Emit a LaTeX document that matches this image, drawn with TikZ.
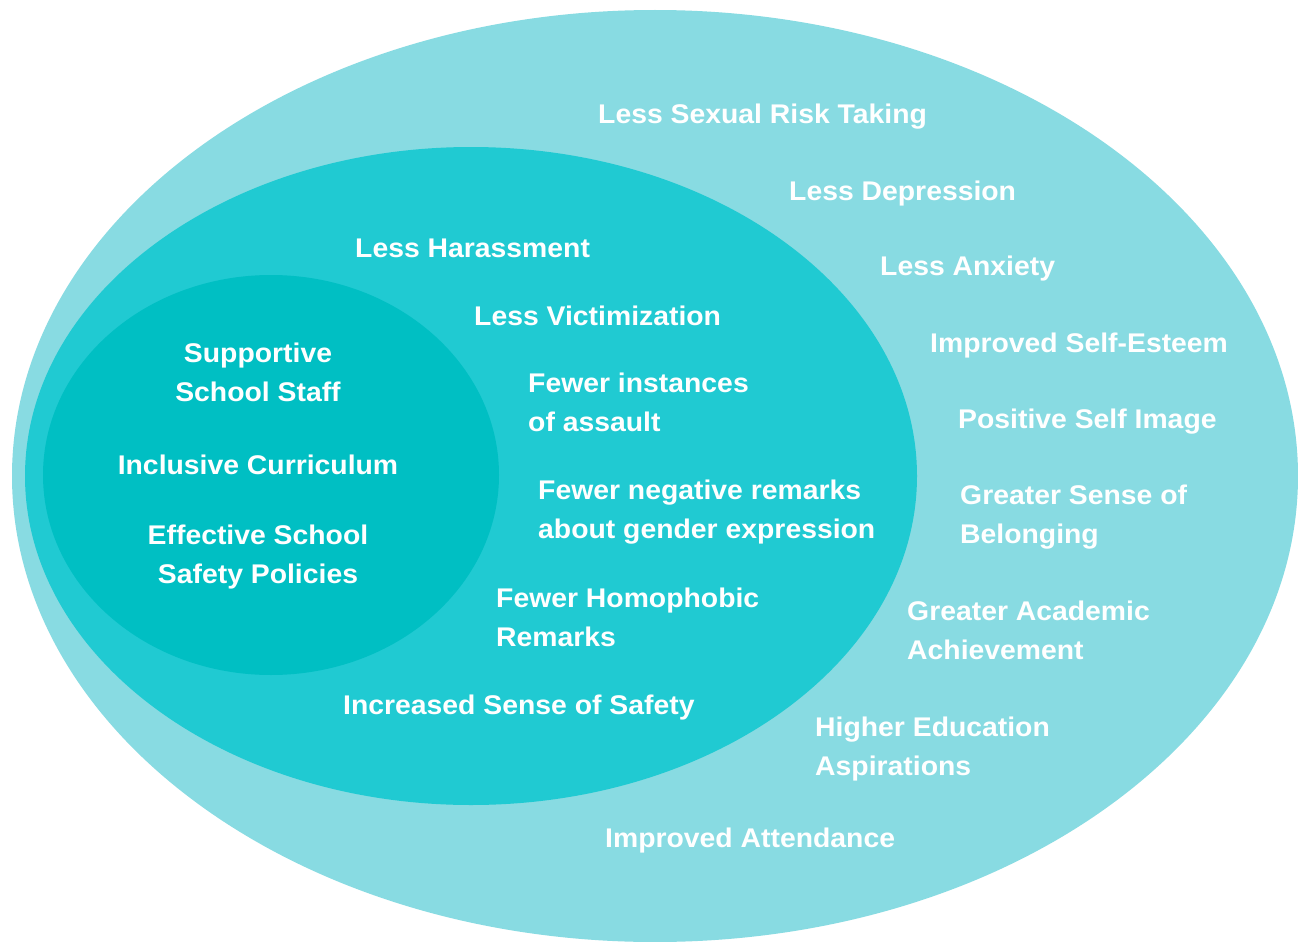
\documentclass[tikz,border=0pt]{standalone}
\usepackage{fontspec}
\setmainfont{Liberation Sans}[FakeStretch=1.05]
\definecolor{outerc}{HTML}{88DBE2}
\definecolor{midc}{HTML}{20CAD2}
\definecolor{innerc}{HTML}{00BFC3}
\tikzset{
  lbl/.style={text=white, font={\fontsize{27}{39.5}\selectfont\bfseries}, inner sep=0pt, anchor=base west, align=left},
  clbl/.style={lbl, anchor=base, align=center}
}
\begin{document}
\begin{tikzpicture}[x=1pt,y=-1pt]
\useasboundingbox (0,0) rectangle (1298,942);
\fill[white] (0,0) rectangle (1298,942);
% ellipses
\fill[outerc] (655,476) ellipse [x radius=643, y radius=466];
\fill[midc] (471,476) ellipse [x radius=446, y radius=329];
\fill[innerc] (271,475) ellipse [x radius=228, y radius=200];
% outer ring (multi-line nodes: y is the baseline of the last line)
\node[lbl] (o1) at (598,123) {Less Sexual Risk Taking};
\node[lbl] (o2) at (789,200) {Less Depression};
\node[lbl] (o3) at (880,275) {Less Anxiety};
\node[lbl] (o4) at (930,352) {Improved Self-Esteem};
\node[lbl] (o5) at (958,428) {Positive Self Image};
\node[lbl] (o6) at (960,543.5) {Greater Sense of\\Belonging};
\node[lbl] (o7) at (907,659.5) {Greater Academic\\Achievement};
\node[lbl] (o8) at (815,775.5) {Higher Education\\Aspirations};
\node[lbl] (o9) at (605,847) {Improved Attendance};
% middle ring
\node[lbl] (m1) at (355,257) {Less Harassment};
\node[lbl] (m2) at (474,325) {Less Victimization};
\node[lbl] (m3) at (528,431.5) {Fewer instances\\of assault};
\node[lbl] (m4) at (538,538.5) {Fewer negative remarks\\about gender expression};
\node[lbl] (m5) at (496,646.5) {Fewer Homophobic\\Remarks};
\node[lbl] (m6) at (343,714) {Increased Sense of Safety};
% inner
\node[clbl] (i1) at (258,401.5) {Supportive\\School Staff};
\node[clbl] (i2) at (258,474) {Inclusive Curriculum};
\node[clbl] (i3) at (258,583.5) {Effective School\\Safety Policies};
\end{tikzpicture}
\end{document}
